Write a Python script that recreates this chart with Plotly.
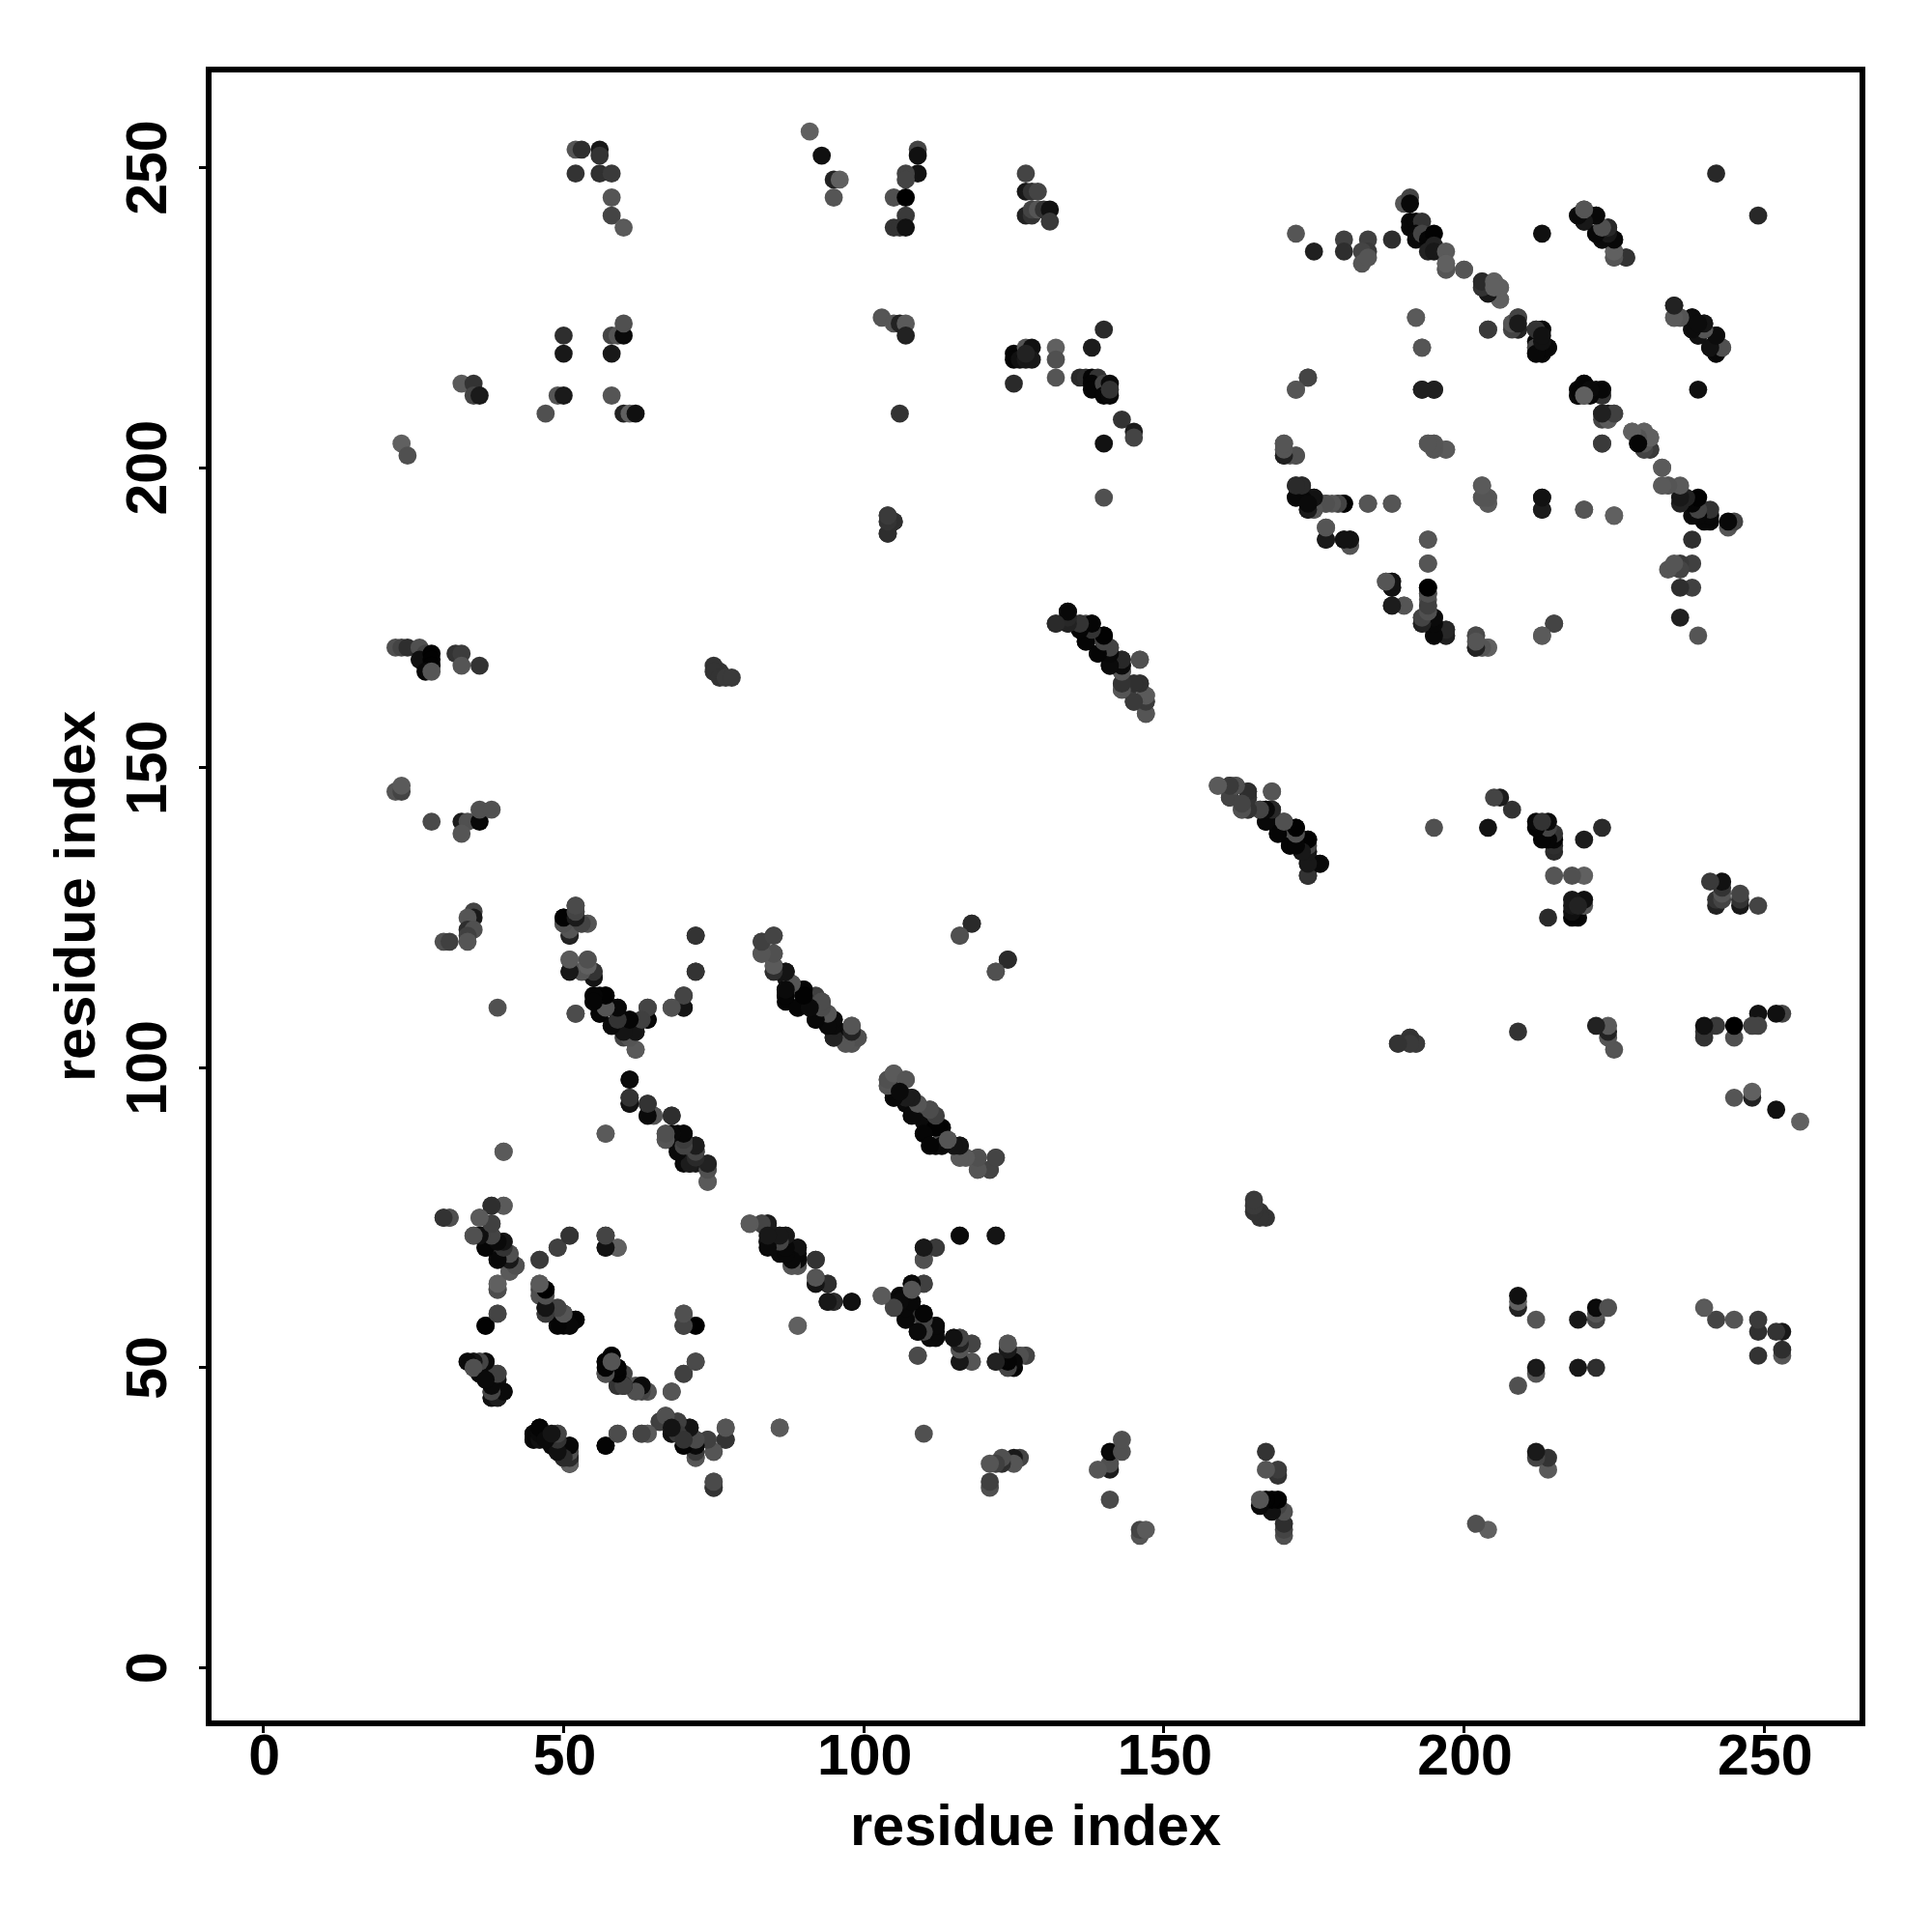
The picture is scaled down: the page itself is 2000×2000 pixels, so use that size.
import plotly.graph_objects as go

# residue pairs (i < j) and gray level of each contact; the map is symmetric
pairs_i = [52,53,56,56,52,56,58,58,58,60,50,50,58,59,60,60,58,33,35,35,36,49,50,47,58,60,61,62,23,24,
91,93,95,96,95,109,109,109,107,107,105,107,107,105,106,107,103,105,106,107,107,106,104,105,104,104,
127,127,128,129,127,128,128,129,130,131,131,125,125,126,127,127,128,128,127,125,132,132,132,140,138,
136,137,138,139,138,138,140,141,140,141,141,143,145,145,140,140,
172,175,180,180,184,184,183,183,184,188,190,191,191,191,191,192,193,192,192,193,194,194,195,195,195,
197,197,197,200,203,203,204,205,206,205,206,204,204,208,209,209,212,213,212,212,213,214,213,212,
192,193,174,172,193,195,219,220,220,219,221,223,223,222,223,223,224,225,224,223,228,230,229,230,231,231,230,
233,233,234,170,170,170,172,171,194,195,195,197,203,203,204,204,213,213,220,225,
172,173,172,174,175,174,175,176,177,179,180,184,188,177,177,180,181,181,194,194,194,194,194,194,
187,188,188,188,190,193,193,195,195,195,197,197,194,202,202,203,204,215,213,
132,134,134,136,137,138,136,137,137,139,140,139,141,141,143,143,146,143,143,143,145,146,145,147,147,147,144,
118,116,124,122,
159,161,162,161,164,164,163,164,168,166,167,168,167,169,170,169,171,172,171,173,174,173,174,174,175,176,174,
189,191,191,192,
22,23,24,26,27,26,28,28,28,27,28,32,33,33,36,75,76,75,76,77,78,22,23,23,28,33,34,36,36,38,33,
35,35,34,34,35,34,34,30,31,52,52,50,51,50,51,53,54,51,72,72,83,85,83,85,85,
51,54,51,53,54,55,55,55,55,56,57,56,58,59,56,58,60,61,62,61,60,62,52,39,64,64,63,68,70,70,
61,61,61,64,64,65,68,67,68,69,70,67,68,69,70,72,71,71,70,72,74,74,74,72,57,40,
30,31,38,40,36,38,35,36,37,37,38,40,39,41,41,42,39,38,40,46,49,51,57,57,59,39,39,46,46,47,46,
85,87,87,88,89,90,90,89,92,93,92,94,95,95,95,97,97,98,99,98,96,87,87,88,87,
104,105,104,105,106,107,107,108,107,109,108,110,111,110,110,113,112,114,112,113,116,116,117,119,119,121,122,
81,83,84,84,85,86,87,86,87,88,89,89,88,89,92,92,92,94,94,95,98,89,
103,105,106,106,108,110,108,108,107,108,110,109,110,112,112,111,110,112,110,116,122,109,
115,116,116,117,118,116,118,122,123,124,124,124,125,125,126,127,
37,39,47,47,47,49,50,49,50,51,52,51,70,70,72,
34,35,36,37,35,36,38,39,38,39,38,39,40,38,39,58,57,57,59,60,59,60,62,63,64,68,70,72,
45,45,46,46,47,49,49,51,51,51,51,50,48,57,59,63,64,66,67,68,69,68,70,71,70,71,72,72,72,74,77,77,75,75,75,86,
219,220,220,222,222,223,223,224,225,225,225,227,224,213,242,235,235,236,238,238,239,239,240,240,242,241,242,243]

pairs_j = [253,253,253,252,249,249,249,245,242,240,222,219,222,222,222,224,219,214,214,212,212,212,212,209,212,209,209,209,204,202,
256,252,248,248,245,253,252,249,249,248,245,245,242,240,240,240,225,224,224,224,222,209,192,191,191,189,
249,246,246,246,242,242,243,243,243,243,241,219,218,218,218,220,220,218,219,214,220,218,215,223,220,
215,215,215,215,214,213,214,214,212,212,213,208,206,205,204,195,
239,236,238,236,238,236,236,234,235,238,244,245,244,241,240,241,241,239,238,239,238,236,239,237,236,
236,234,233,233,231,230,230,231,230,229,228,229,223,224,225,223,223,223,221,219,219,220,221,220,
225,220,215,213,213,213,213,214,212,212,213,213,212,213,209,208,208,209,209,204,206,206,204,203,203,205,205,
200,197,197,204,203,202,202,202,204,204,203,203,197,195,195,194,195,193,193,192,
197,197,195,195,195,193,193,194,194,194,194,194,194,190,188,188,188,187,188,184,180,179,178,177,
181,181,180,177,177,175,174,175,173,172,173,172,174,172,170,170,170,174,172,
174,176,174,174,174,174,173,171,172,172,172,169,170,167,168,167,168,166,164,163,164,164,161,162,161,159,163,
124,122,118,116,
147,147,147,145,146,145,143,143,146,143,143,143,141,141,141,139,140,140,137,138,138,136,136,134,134,134,132,
104,105,104,104,
170,170,170,170,169,168,169,168,167,166,166,169,169,167,167,167,166,166,165,165,165,146,146,147,141,141,141,141,143,143,139,
126,125,125,123,123,122,121,121,121,127,126,125,125,124,124,124,124,122,122,116,121,122,119,119,117,
118,118,116,116,116,116,115,112,111,112,112,110,110,110,109,107,107,108,106,106,105,103,109,110,110,108,108,110,112,110,
98,95,94,94,92,92,92,89,89,89,89,88,88,87,87,87,86,84,84,86,84,83,81,84,89,86,
75,75,77,77,75,74,72,72,72,70,72,71,68,69,66,67,69,70,68,68,70,72,72,70,70,64,63,64,63,63,62,
116,116,112,114,113,113,112,110,112,111,108,109,108,107,105,105,104,104,105,107,106,115,113,114,111,
98,99,97,95,98,98,95,95,94,94,92,93,93,89,91,90,90,88,87,87,87,85,85,85,83,83,85,
74,74,74,71,72,72,72,69,70,70,70,68,67,67,68,65,64,64,61,61,61,57,
62,61,62,60,64,64,63,61,58,59,59,56,57,57,55,55,70,70,68,72,72,52,
55,55,53,54,54,51,51,51,51,54,53,50,50,52,52,52,
57,59,60,59,60,59,59,57,57,57,58,58,59,57,57,
51,51,51,51,50,49,49,49,45,45,46,46,46,47,48,52,51,49,50,49,47,47,47,47,46,46,49,51,
38,39,40,38,38,39,36,37,36,35,34,35,37,37,39,39,39,41,42,41,41,39,40,40,37,39,38,36,35,38,40,38,36,31,30,40,
242,243,241,242,239,240,238,240,238,236,235,235,239,239,249,227,225,225,225,223,224,222,224,223,222,220,219,220]

gray_levels = [85,46,24,51,51,48,58,85,68,90,46,24,68,85,10,80,24,90,51,68,26,85,26,80,85,34,96,16,96,80,
96,16,34,96,85,68,16,18,68,68,80,0,58,51,51,17,85,85,34,90,34,51,58,51,58,51,
68,24,51,68,34,51,68,85,51,17,58,5,5,16,24,85,16,24,34,42,96,80,85,42,28,
42,46,5,51,5,5,68,10,5,8,51,51,28,68,18,80,
85,32,64,46,64,58,68,85,85,46,85,68,8,8,8,8,51,8,10,68,5,34,2,34,24,
90,85,90,90,58,68,85,96,96,85,96,5,58,90,64,32,51,8,8,8,5,5,10,96,
96,85,68,90,28,18,8,8,68,8,17,10,51,17,34,68,85,68,26,58,96,96,24,51,42,96,96,
85,85,96,96,85,34,74,85,90,85,85,90,90,85,85,85,32,32,85,90,
32,40,8,8,10,34,68,80,64,80,0,85,85,85,28,18,18,85,85,85,2,68,85,80,
85,18,18,26,85,85,26,18,8,8,42,42,10,80,32,85,85,68,85,
51,8,24,24,68,2,24,5,5,80,2,5,80,8,40,10,85,68,51,80,51,46,68,80,58,90,68,
42,80,42,80,
85,58,90,58,48,48,85,51,80,85,10,40,10,8,68,5,68,2,5,51,5,5,51,34,40,8,42,
46,46,51,58,
80,68,46,80,68,16,2,2,2,8,85,51,60,85,51,51,51,51,51,58,58,85,68,90,74,28,80,8,80,80,85,
68,26,85,46,80,64,85,80,64,68,80,5,8,68,5,26,85,34,20,10,68,68,85,80,90,
85,68,24,85,34,68,17,10,10,10,10,68,68,5,10,8,8,8,8,10,68,90,74,80,64,10,85,80,58,24,
16,42,24,46,20,85,51,85,10,8,17,85,8,8,8,24,68,20,10,24,28,68,90,24,96,90,
51,74,51,85,85,64,85,58,10,5,74,20,16,64,64,80,58,51,20,85,64,74,0,68,80,90,68,85,68,10,80,
90,20,10,96,80,2,2,5,64,76,10,85,28,28,8,51,85,80,90,85,10,20,10,85,5,
85,80,85,34,34,85,10,10,10,85,8,76,76,5,10,5,2,85,5,10,20,46,90,80,85,64,68,
90,80,34,28,42,68,28,10,68,60,8,10,85,80,46,85,10,51,18,51,10,90,
90,85,20,20,8,68,64,5,10,51,8,5,85,2,5,5,20,68,80,51,51,76,
20,51,85,96,80,24,90,34,85,85,68,80,2,26,68,74,
4,76,20,51,64,4,4,80,4,4,2,85,96,18,68,
96,42,80,8,42,16,51,68,8,8,16,10,5,10,20,5,8,5,85,68,58,20,80,0,90,58,64,51,
16,28,10,68,10,64,8,10,68,20,10,80,10,2,68,76,96,90,80,24,80,8,51,20,5,10,68,15,80,64,90,46,90,80,51,90,
8,80,17,12,17,85,12,20,12,85,90,34,12,16,40,51,85,96,8,10,24,8,40,80,8,24,10,85]

residue_ticks = [0, 50, 100, 150, 200, 250]

if not (len(pairs_i) == len(pairs_j) == len(gray_levels)):
    raise SystemExit(f"length mismatch {len(pairs_i)} {len(pairs_j)} {len(gray_levels)}")

xs = pairs_i + pairs_j
ys = pairs_j + pairs_i
gs = gray_levels * 2
colors = [f"rgb({g},{g},{g})" for g in gs]

fig = go.Figure(go.Scatter(x=xs, y=ys, mode="markers",
    marker=dict(size=18.8, color=colors, line=dict(width=0)), hoverinfo="skip"))

axis = dict(tickmode="array", tickvals=residue_ticks,
    ticks="outside", ticklen=7, tickwidth=3, tickcolor="black",
    showgrid=False, zeroline=False, showline=True, linewidth=5.5, linecolor="black",
    mirror=True,
    tickfont=dict(family="Liberation Sans", size=59, color="black", weight="bold"))
title_font = dict(family="Liberation Sans", size=59.6, color="black")
fig.update_xaxes(**axis, range=[-8.65, 265.89], ticklabelstandoff=-28, ticklabelshift=1,
    title=dict(text="<b>residue index</b>", standoff=22, font=title_font))
fig.update_yaxes(**axis, range=[-8.78, 265.85], tickangle=-90, ticklabelstandoff=11, ticklabelshift=9,
    title=dict(text="<b>residue index</b>", standoff=3, font=title_font))
fig.update_layout(width=2000, height=2000, autosize=False,
    margin=dict(l=211.25, r=82.75, t=66.75, b=226.75, autoexpand=False),
    paper_bgcolor="white", plot_bgcolor="white", showlegend=False)
fig.write_html("out.html")
